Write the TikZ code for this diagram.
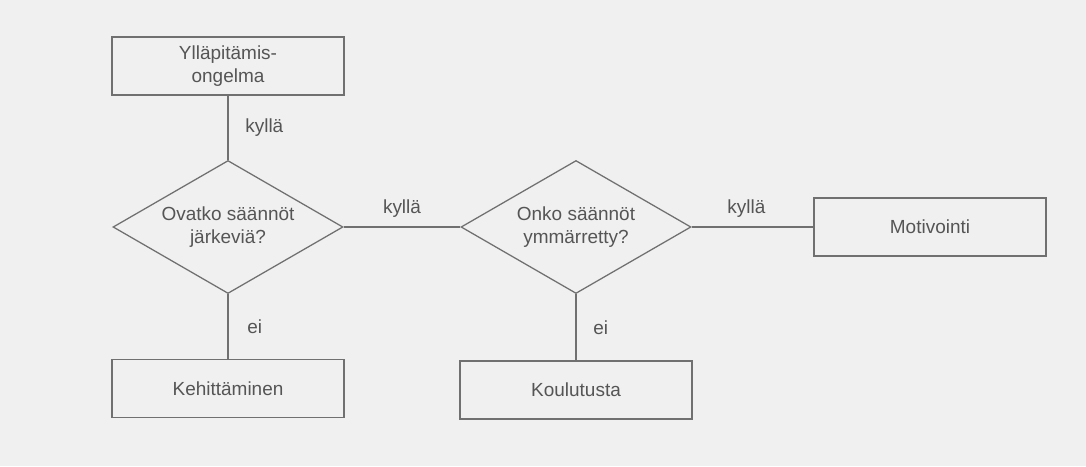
\documentclass[tikz,border=0pt]{standalone}
\usepackage{fontspec}
\setmainfont{Liberation Sans}
\usepackage{xcolor}
\usepackage{tikz}
\usetikzlibrary{shapes.geometric, positioning}

\definecolor{paper}{HTML}{F0F0F0}
\definecolor{inkgray}{HTML}{555555}
\definecolor{linegray}{HTML}{707070}

\begin{document}
\begin{tikzpicture}[
  font=\fontsize{13.5}{16.5}\selectfont,
  every node/.style={text=inkgray},
  box/.style={draw=linegray, line width=0.9pt, minimum width=5.8cm,
              minimum height=1.45cm, align=center},
  decision/.style={draw=linegray, line width=0.9pt, diamond, aspect=1.73,
                   inner sep=0pt, minimum width=5.75cm, minimum height=3.325cm,
                   align=center},
  conn/.style={draw=linegray, line width=0.9pt}
]
\fill[paper] (0,0) rectangle (27.15,-11.65);
\useasboundingbox (0,0) rectangle (27.15,-11.65);

\node[box]      (prob)  at (5.7,-1.65)   {Ylläpitämis-\\ongelma};
\node[decision] (sens)  at (5.7,-5.675)  {Ovatko säännöt\\järkeviä?};
\node[decision] (under) at (14.4,-5.675) {Onko säännöt\\ymmärretty?};
\node[box]      (motiv) at (23.25,-5.675) {Motivointi};
\node[box]      (devel) at (5.7,-9.72)   {Kehittäminen};
\node[box]      (train) at (14.4,-9.75)  {Koulutusta};

%% Yes branches
\draw[conn] (prob.south) -- (sens.north)
  node[pos=0.5, right=0.3cm] {kyllä};
\draw[conn] (sens.east) -- (under.west)
  node[pos=0.5, above=0.1cm] {kyllä};
\draw[conn] (under.east) -- (motiv.west)
  node[pos=0.45, above=0.1cm] {kyllä};

%% No branches
\draw[conn] (sens.south) -- (devel.north)
  node[pos=0.5, right=0.35cm] {ei};
\draw[conn] (under.south) -- (train.north)
  node[pos=0.5, right=0.3cm] {ei};
\end{tikzpicture}
\end{document}
